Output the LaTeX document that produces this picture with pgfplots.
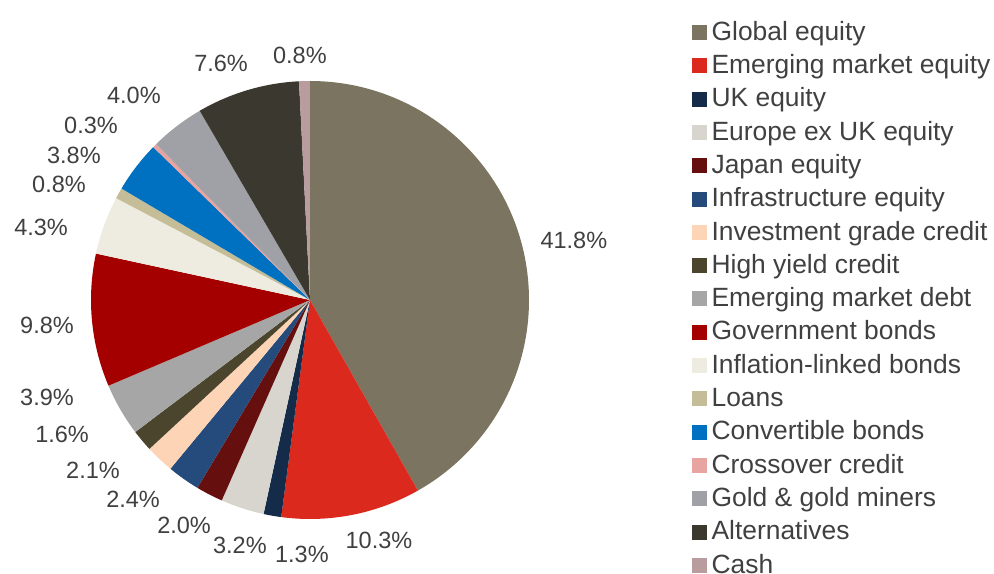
\documentclass[border=0pt]{standalone}
\usepackage{pgfplots}
\pgfplotsset{compat=1.18}
\usepackage{pgfplotstable}
\usepackage{fontspec}
\setmainfont{Liberation Sans}

\definecolor{c0}{HTML}{7A7461}
\definecolor{c1}{HTML}{DC291E}
\definecolor{c2}{HTML}{152B4A}
\definecolor{c3}{HTML}{D8D5CF}
\definecolor{c4}{HTML}{65100E}
\definecolor{c5}{HTML}{254A7C}
\definecolor{c6}{HTML}{FDD5B6}
\definecolor{c7}{HTML}{4A452C}
\definecolor{c8}{HTML}{A6A6A6}
\definecolor{c9}{HTML}{A50000}
\definecolor{c10}{HTML}{EEEBE0}
\definecolor{c11}{HTML}{C4BD97}
\definecolor{c12}{HTML}{0070C0}
\definecolor{c13}{HTML}{E8A4A0}
\definecolor{c14}{HTML}{A0A1A6}
\definecolor{c15}{HTML}{3B3830}
\definecolor{c16}{HTML}{B89C9E}
\definecolor{txt}{HTML}{404040}

% share of each asset class, clockwise from 12 o'clock
\pgfplotstableread[col sep=comma]{
name,value
Global equity,41.8
Emerging market equity,10.3
UK equity,1.3
Europe ex UK equity,3.2
Japan equity,2.0
Infrastructure equity,2.4
Investment grade credit,2.1
High yield credit,1.6
Emerging market debt,3.9
Government bonds,9.8
Inflation-linked bonds,4.3
Loans,0.8
Convertible bonds,3.8
Crossover credit,0.3
Gold and gold miners,4.0
Alternatives,7.6
Cash,0.8
}\piedata

\begin{document}
\begin{tikzpicture}[lbl/.style={text=txt, inner sep=0pt, font=\fontsize{23.5bp}{28bp}\selectfont}]
\begin{axis}[
  x=219bp, y=219bp, anchor=origin,
  xmin=-1, xmax=1, ymin=-1, ymax=1,
  hide axis, clip=false,
  legend cell align=left,
  legend image code/.code={\fill[#1] (0bp,-7bp) rectangle (14bp,7bp);},
  legend style={draw=none, fill=none, inner sep=0pt,
    at={(axis cs:1.7443,1.2831)}, anchor=north west,
    font=\fontsize{26.4bp}{26bp}\selectfont, text=txt,
    row sep=7.3bp, column sep=5bp,
    nodes={inner sep=0pt, text height=21bp, text depth=5bp}},
]
\def\cum{0}
\pgfplotsforeachungrouped \i in {0,...,16}{%
  \pgfplotstablegetelem{\i}{value}\of\piedata
  \let\v\pgfplotsretval
  \pgfmathsetmacro\a{90-3.6*\cum}%
  \pgfmathsetmacro\b{90-3.6*(\cum+\v)}%
  \edef\temp{\noexpand\fill[c\i] (axis cs:0,0) -- +(\a:219bp)
    arc[start angle=\a, end angle=\b, radius=219bp] -- cycle;}%
  \temp
  \pgfmathsetmacro\cum{\cum+\v}%
}

\node[lbl] at (axis cs:1.205,0.274) {41.8\%};
\node[lbl] at (axis cs:0.315,-1.100) {10.3\%};
\node[lbl] at (axis cs:-0.037,-1.160) {1.3\%};
\node[lbl] at (axis cs:-0.320,-1.120) {3.2\%};
\node[lbl] at (axis cs:-0.575,-1.030) {2.0\%};
\node[lbl] at (axis cs:-0.808,-0.909) {2.4\%};
\node[lbl] at (axis cs:-0.991,-0.776) {2.1\%};
\node[lbl] at (axis cs:-1.132,-0.612) {1.6\%};
\node[lbl] at (axis cs:-1.201,-0.447) {3.9\%};
\node[lbl] at (axis cs:-1.201,-0.114) {9.8\%};
\node[lbl] at (axis cs:-1.228,0.333) {4.3\%};
\node[lbl] at (axis cs:-1.146,0.530) {0.8\%};
\node[lbl] at (axis cs:-1.078,0.662) {3.8\%};
\node[lbl] at (axis cs:-1.000,0.795) {0.3\%};
\node[lbl] at (axis cs:-0.804,0.932) {4.0\%};
\node[lbl] at (axis cs:-0.406,1.082) {7.6\%};
\node[lbl] at (axis cs:-0.046,1.119) {0.8\%};

\addlegendimage{c0}\addlegendentry{Global equity}
\addlegendimage{c1}\addlegendentry{Emerging market equity}
\addlegendimage{c2}\addlegendentry{UK equity}
\addlegendimage{c3}\addlegendentry{Europe ex UK equity}
\addlegendimage{c4}\addlegendentry{Japan equity}
\addlegendimage{c5}\addlegendentry{Infrastructure equity}
\addlegendimage{c6}\addlegendentry{Investment grade credit}
\addlegendimage{c7}\addlegendentry{High yield credit}
\addlegendimage{c8}\addlegendentry{Emerging market debt}
\addlegendimage{c9}\addlegendentry{Government bonds}
\addlegendimage{c10}\addlegendentry{Inflation-linked bonds}
\addlegendimage{c11}\addlegendentry{Loans}
\addlegendimage{c12}\addlegendentry{Convertible bonds}
\addlegendimage{c13}\addlegendentry{Crossover credit}
\addlegendimage{c14}\addlegendentry{Gold \& gold miners}
\addlegendimage{c15}\addlegendentry{Alternatives}
\addlegendimage{c16}\addlegendentry{Cash}
\end{axis}
\pgfresetboundingbox
\path (-310bp,-274bp) rectangle (684bp,300bp);
\end{tikzpicture}
\end{document}
